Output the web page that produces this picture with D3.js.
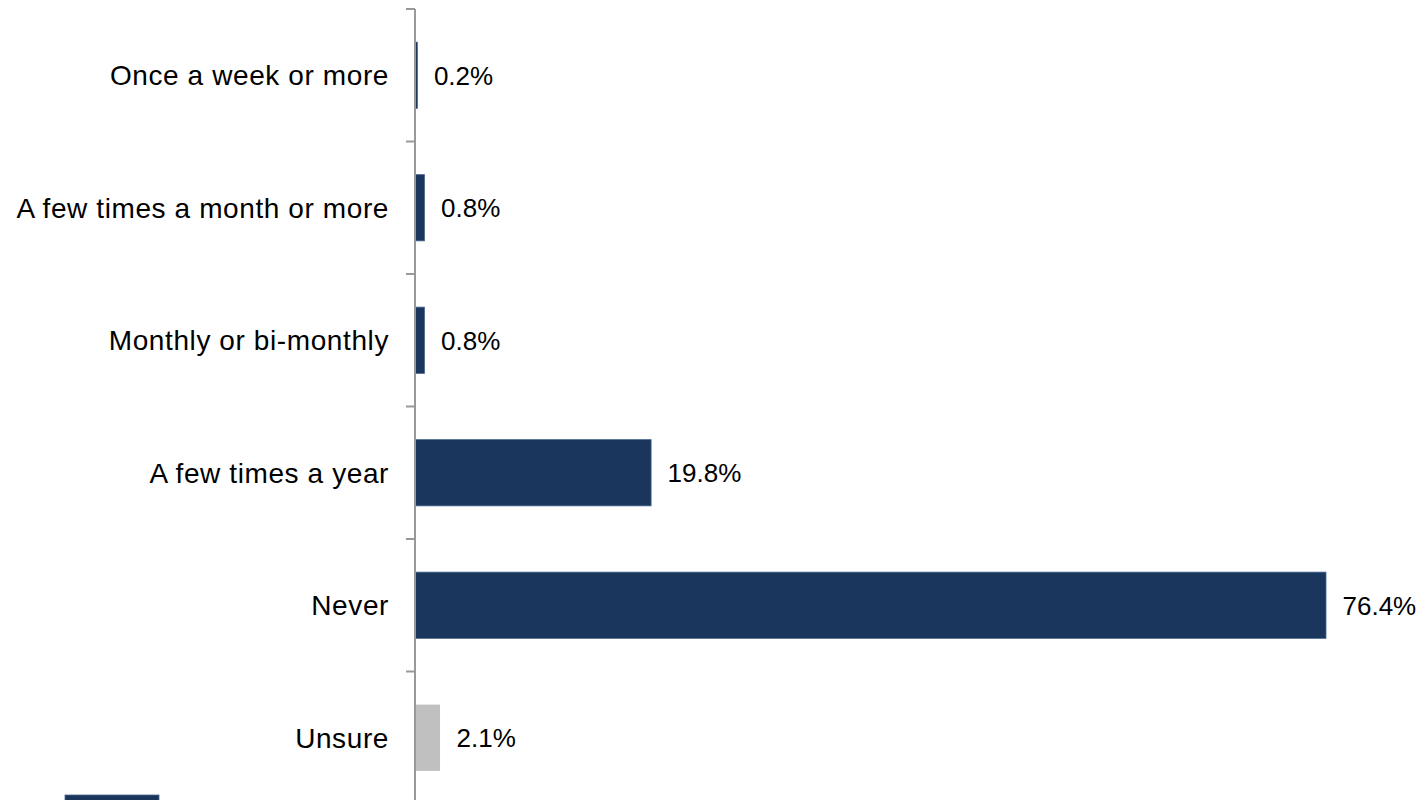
<!DOCTYPE html>
<html>
<head>
<meta charset="utf-8">
<script src="https://cdn.jsdelivr.net/npm/d3@7"></script>
<style>
  html, body { margin: 0; padding: 0; background: #fff; }
  svg { display: block; }
  text { font-family: "Liberation Sans", Arial, sans-serif; }
</style>
</head>
<body>
<svg id="chart" width="1422" height="800"></svg>
<script>
const categories = ["Once a week or more", "A few times a month or more", "Monthly or bi-monthly", "A few times a year", "Never", "Unsure"];
const values = [0.2, 0.8, 0.8, 19.8, 76.4, 2.1];
const colors = ["#1b365d", "#1b365d", "#1b365d", "#1b365d", "#1b365d", "#c0c0c0"];
const valueLabels = ["0.2%", "0.8%", "0.8%", "19.8%", "76.4%", "2.1%"];

(function () {
const svg = d3.select("#chart");
const x0 = 415, plotTop = 9, band = 132.5;
const x = d3.scaleLinear().domain([0, 76.4]).range([x0, 1326]);
const y = d3.scaleBand().domain(categories).range([plotTop, plotTop + band * categories.length]).paddingInner(0.5).paddingOuter(0.25);

// bars
svg.selectAll("rect.bar").data(categories).enter().append("rect")
  .attr("class", "bar")
  .attr("x", x(0))
  .attr("y", d => y(d))
  .attr("width", (d, i) => x(values[i]) - x(0))
  .attr("height", y.bandwidth())
  .attr("fill", (d, i) => colors[i])
  .attr("stroke", (d, i) => i === 5 ? "none" : "#4a6790")
  .attr("stroke-width", 0.8);

// axis line
svg.append("line")
  .attr("x1", x0).attr("x2", x0)
  .attr("y1", plotTop).attr("y2", 800)
  .attr("stroke", "#999").attr("stroke-width", 2);

// ticks at band boundaries
const tickYs = d3.range(categories.length + 1).map(i => plotTop + i * band);
svg.selectAll("line.tick").data(tickYs).enter().append("line")
  .attr("class", "tick")
  .attr("x1", x0 - 9).attr("x2", x0)
  .attr("y1", d => d).attr("y2", d => d)
  .attr("stroke", "#999").attr("stroke-width", 2);

// category labels
svg.selectAll("text.cat").data(categories).enter().append("text")
  .attr("class", "cat")
  .attr("x", 389)
  .attr("y", d => y(d) + y.bandwidth() / 2)
  .attr("dy", "0.36em")
  .attr("text-anchor", "end")
  .attr("font-size", 28)
  .attr("letter-spacing", "0.6px")
  .attr("fill", "#000")
  .text(d => d);

// value labels
svg.selectAll("text.val").data(categories).enter().append("text")
  .attr("class", "val")
  .attr("x", (d, i) => x(values[i]) + 16.5)
  .attr("y", d => y(d) + y.bandwidth() / 2)
  .attr("dy", "0.36em")
  .attr("font-size", 26)
  .attr("fill", "#000")
  .text((d, i) => valueLabels[i]);

// partial legend swatch (cropped at the bottom)
svg.append("rect")
  .attr("x", 65).attr("y", 795)
  .attr("width", 94).attr("height", 20)
  .attr("fill", "#1b365d")
  .attr("stroke", "#4a6790").attr("stroke-width", 0.8);
})();
</script>
</body>
</html>
